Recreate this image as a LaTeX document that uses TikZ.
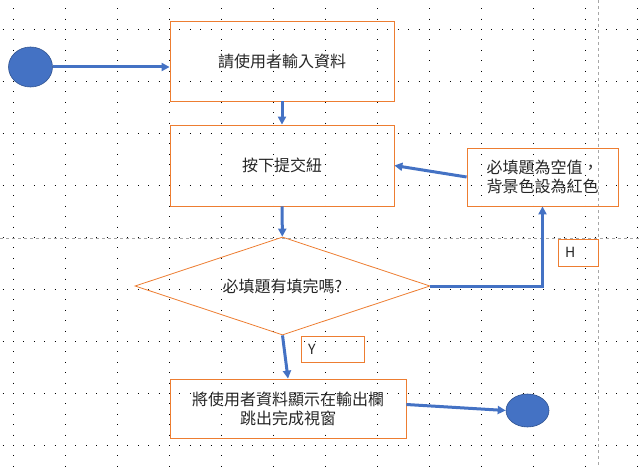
\documentclass[tikz,border=0pt]{standalone}
\usepackage{fontspec}
\newfontfamily\cjk{Noto Sans CJK TC}
\usetikzlibrary{arrows.meta, shapes.geometric}
\definecolor{boxorange}{HTML}{ED7D31}
\definecolor{flowblue}{HTML}{4472C4}
\definecolor{rimblue}{HTML}{2F528F}

\begin{document}
\begin{tikzpicture}[
    x=1pt, y=-1pt,
  box/.style={rectangle, draw=boxorange, line width=0.8pt, inner sep=0pt, align=center, text=black!85, font=\cjk\fontsize{16}{19}\selectfont},
    decision/.style={diamond, shape aspect=3.01, draw=boxorange, line width=0.8pt, inner sep=0pt, text=black!85, font=\cjk\fontsize{16}{19}\selectfont},
    terminal/.style={ellipse, fill=flowblue, draw=rimblue, line width=0.6pt, inner sep=0pt},
    tag/.style={rectangle, draw=boxorange, line width=0.8pt, inner xsep=7pt, inner ysep=0pt, align=left, text=black!85, font=\cjk\fontsize{14}{16}\selectfont},
    flow/.style={draw=flowblue, line width=3pt, -{Triangle[length=8pt, width=8pt]}},
    griddots/.style={black, line width=0.9pt, dash pattern=on 0.9pt off 9.5pt},
    guide/.style={gray!70, line width=0.6pt, dash pattern=on 3pt off 3pt}
]

\useasboundingbox (0,0) rectangle (640,468);

% dotted grid and guides
\foreach \gy in {29,81,...,445} \draw[griddots] (2.6,\gy) -- (640,\gy);
\foreach \gx in {13,65,...,637} \draw[griddots] (\gx,8.2) -- (\gx,468);
\draw[guide] (0,238) -- (640,238);
\draw[guide] (598,0) -- (598,468);

\node[terminal, minimum width=44pt, minimum height=40pt] (start) at (30.5,67) {};
\node[box, minimum width=224pt, minimum height=80pt] (input) at (282,61) {請使用者輸入資料};
\node[box, minimum width=224pt, minimum height=81pt] (submit) at (282,165.5) {按下提交紐};
\node[box, minimum width=151pt, minimum height=58pt] (warn) at (542.5,177) {必填題為空值，\\背景色設為紅色};
\node[decision, minimum width=295pt, minimum height=98pt] (check) at (282.5,286) {必填題有填完嗎?};
\node[box, minimum width=236pt, minimum height=59pt] (output) at (288,408.5) {將使用者資料顯示在輸出欄\\跳出完成視窗};
\node[terminal, minimum width=43pt, minimum height=33pt] (end) at (527.5,410.5) {};

\node[tag, text width=26pt, minimum height=27pt] (no) at (578,252.5) {H};
\node[tag, text width=49pt, minimum height=26pt] (yes) at (332.5,349) {Y};

% flow
\draw[flow] (start) -- (start -| input.west);
\draw[flow] (input) -- (submit);
\draw[flow] (submit) -- (check);
\draw[flow] (check.east) -| (warn.south); % not filled
\draw[flow] (warn.west) -- (submit.east);
\draw[flow] (check.south) -- (output.north); % filled
\draw[flow] ([yshift=4pt]output.east) -- (end.west);

\end{tikzpicture}
\end{document}
